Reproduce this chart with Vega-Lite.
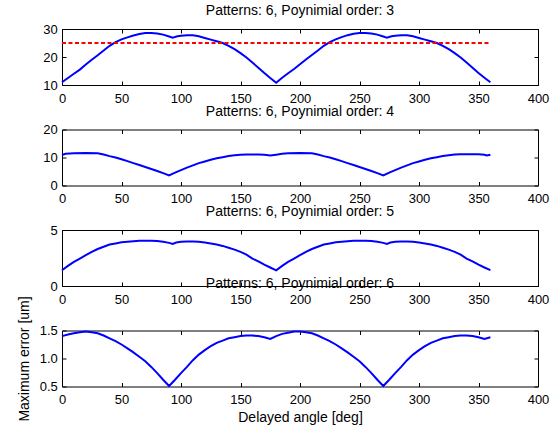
{
 "$schema": "https://vega.github.io/schema/vega-lite/v6.json",
 "padding": {"left": 16, "top": 3, "right": 0, "bottom": 0},
 "bounds": "flush",
 "spacing": 44.5,
 "config": {
  "font": "Liberation Sans",
  "view": {"stroke": "#000000", "strokeWidth": 1},
  "axis": {"domain": false, "grid": false, "ticks": true, "tickColor": "#000000", "tickSize": -4, "tickWidth": 1,
           "labelColor": "#000000", "labelFontSize": 13, "labelFont": "Liberation Sans", "labelFlush": false, "labelOverlap": false,
           "titleFont": "Liberation Sans", "titleFontSize": 14, "titleFontWeight": "normal", "titleColor": "#000000"},
  "axisX": {"labelPadding": 11, "titlePadding": 4},
  "axisY": {"labelPadding": 8.7, "titlePadding": 8},
  "title": {"fontSize": 14, "fontWeight": "normal", "font": "Liberation Sans", "color": "#000000", "offset": 5, "baseline": "alphabetic"}
 },
 "datasets": {
  "p3": [
   {"angle":0,"err":11.0},{"angle":5,"err":12.5},{"angle":10,"err":14.0},{"angle":15,"err":15.5},{"angle":20,"err":17.3},{"angle":25,"err":19.0},{"angle":30,"err":20.6},{"angle":35,"err":22.3},{"angle":40,"err":24.0},{"angle":45,"err":25.3},{"angle":50,"err":26.3},{"angle":55,"err":27.0},{"angle":60,"err":27.7},{"angle":65,"err":28.2},{"angle":70,"err":28.6},{"angle":75,"err":28.6},{"angle":80,"err":28.4},{"angle":85,"err":28.0},{"angle":90,"err":27.3},{"angle":93,"err":26.9},{"angle":97,"err":27.4},{"angle":100,"err":27.6},{"angle":105,"err":27.8},{"angle":110,"err":27.8},{"angle":115,"err":27.4},{"angle":120,"err":26.8},{"angle":125,"err":26.2},{"angle":130,"err":25.6},{"angle":135,"err":25.0},{"angle":140,"err":24.0},{"angle":145,"err":22.8},{"angle":150,"err":21.4},{"angle":155,"err":19.8},{"angle":160,"err":18.0},{"angle":165,"err":16.2},{"angle":170,"err":14.3},{"angle":175,"err":12.5},{"angle":180,"err":10.8},
   {"angle":185,"err":12.6},{"angle":190,"err":14.2},{"angle":195,"err":15.7},{"angle":200,"err":17.4},{"angle":205,"err":19.1},{"angle":210,"err":20.7},{"angle":215,"err":22.3},{"angle":220,"err":24.0},{"angle":225,"err":25.3},{"angle":230,"err":26.3},{"angle":235,"err":27.1},{"angle":240,"err":27.8},{"angle":245,"err":28.3},{"angle":250,"err":28.6},{"angle":255,"err":28.6},{"angle":260,"err":28.4},{"angle":265,"err":28.0},{"angle":270,"err":27.3},{"angle":273,"err":26.9},{"angle":277,"err":27.4},{"angle":280,"err":27.6},{"angle":285,"err":27.8},{"angle":290,"err":27.8},{"angle":295,"err":27.4},{"angle":300,"err":26.8},{"angle":305,"err":26.2},{"angle":310,"err":25.6},{"angle":315,"err":25.0},{"angle":320,"err":24.0},{"angle":325,"err":22.8},{"angle":330,"err":21.4},{"angle":335,"err":19.8},{"angle":340,"err":18.0},{"angle":345,"err":16.2},{"angle":350,"err":14.3},{"angle":355,"err":12.6},{"angle":360,"err":11.0}
  ],
  "limit": [{"angle":0,"err":25},{"angle":360,"err":25}],
  "p4": [
   {"angle":0,"err":10.9},{"angle":3,"err":11.3},{"angle":10,"err":11.5},{"angle":20,"err":11.6},{"angle":30,"err":11.5},{"angle":35,"err":11.1},{"angle":40,"err":10.5},{"angle":45,"err":10.0},{"angle":50,"err":9.4},{"angle":55,"err":8.7},{"angle":60,"err":8.0},{"angle":65,"err":7.3},{"angle":70,"err":6.6},{"angle":75,"err":5.9},{"angle":80,"err":5.2},{"angle":85,"err":4.4},{"angle":90,"err":3.6},{"angle":95,"err":4.6},{"angle":100,"err":5.5},{"angle":105,"err":6.4},{"angle":110,"err":7.2},{"angle":115,"err":8.0},{"angle":120,"err":8.6},{"angle":125,"err":9.2},{"angle":130,"err":9.7},{"angle":135,"err":10.1},{"angle":140,"err":10.5},{"angle":145,"err":10.8},{"angle":150,"err":11.0},{"angle":155,"err":11.1},{"angle":160,"err":11.1},{"angle":165,"err":11.1},{"angle":170,"err":11.0},{"angle":175,"err":10.7},{"angle":180,"err":11.0},
   {"angle":185,"err":11.3},{"angle":190,"err":11.5},{"angle":200,"err":11.6},{"angle":210,"err":11.5},{"angle":215,"err":11.1},{"angle":220,"err":10.5},{"angle":225,"err":10.0},{"angle":230,"err":9.4},{"angle":235,"err":8.7},{"angle":240,"err":8.0},{"angle":245,"err":7.3},{"angle":250,"err":6.6},{"angle":255,"err":5.9},{"angle":260,"err":5.2},{"angle":265,"err":4.4},{"angle":270,"err":3.6},{"angle":275,"err":4.6},{"angle":280,"err":5.5},{"angle":285,"err":6.4},{"angle":290,"err":7.2},{"angle":295,"err":8.0},{"angle":300,"err":8.6},{"angle":305,"err":9.2},{"angle":310,"err":9.7},{"angle":315,"err":10.1},{"angle":320,"err":10.5},{"angle":325,"err":10.8},{"angle":330,"err":11.1},{"angle":335,"err":11.2},{"angle":340,"err":11.2},{"angle":345,"err":11.2},{"angle":350,"err":11.2},{"angle":355,"err":11.0},{"angle":357,"err":10.7},{"angle":360,"err":11.0}
  ],
  "p5": [
   {"angle":0,"err":1.4},{"angle":5,"err":1.8},{"angle":10,"err":2.15},{"angle":15,"err":2.45},{"angle":20,"err":2.75},{"angle":25,"err":3.05},{"angle":30,"err":3.3},{"angle":35,"err":3.5},{"angle":40,"err":3.7},{"angle":45,"err":3.8},{"angle":50,"err":3.9},{"angle":55,"err":3.95},{"angle":60,"err":4.0},{"angle":65,"err":4.05},{"angle":70,"err":4.05},{"angle":75,"err":4.05},{"angle":80,"err":4.02},{"angle":85,"err":3.95},{"angle":90,"err":3.85},{"angle":93,"err":3.75},{"angle":96,"err":3.88},{"angle":100,"err":3.95},{"angle":105,"err":3.97},{"angle":110,"err":3.97},{"angle":115,"err":3.95},{"angle":120,"err":3.88},{"angle":125,"err":3.8},{"angle":130,"err":3.7},{"angle":135,"err":3.58},{"angle":140,"err":3.42},{"angle":145,"err":3.25},{"angle":150,"err":3.05},{"angle":155,"err":2.8},{"angle":160,"err":2.45},{"angle":165,"err":2.2},{"angle":170,"err":1.9},{"angle":175,"err":1.65},{"angle":180,"err":1.4},
   {"angle":185,"err":1.8},{"angle":190,"err":2.15},{"angle":195,"err":2.45},{"angle":200,"err":2.75},{"angle":205,"err":3.05},{"angle":210,"err":3.3},{"angle":215,"err":3.5},{"angle":220,"err":3.7},{"angle":225,"err":3.8},{"angle":230,"err":3.9},{"angle":235,"err":3.95},{"angle":240,"err":4.0},{"angle":245,"err":4.05},{"angle":250,"err":4.05},{"angle":255,"err":4.05},{"angle":260,"err":4.02},{"angle":265,"err":3.95},{"angle":270,"err":3.85},{"angle":273,"err":3.75},{"angle":276,"err":3.88},{"angle":280,"err":3.95},{"angle":285,"err":3.97},{"angle":290,"err":3.97},{"angle":295,"err":3.95},{"angle":300,"err":3.88},{"angle":305,"err":3.8},{"angle":310,"err":3.7},{"angle":315,"err":3.58},{"angle":320,"err":3.42},{"angle":325,"err":3.25},{"angle":330,"err":3.05},{"angle":335,"err":2.8},{"angle":340,"err":2.45},{"angle":345,"err":2.2},{"angle":350,"err":1.9},{"angle":355,"err":1.65},{"angle":360,"err":1.42}
  ],
  "p6": [
   {"angle":0,"err":1.40},{"angle":5,"err":1.43},{"angle":10,"err":1.45},{"angle":15,"err":1.47},{"angle":20,"err":1.48},{"angle":25,"err":1.47},{"angle":30,"err":1.45},{"angle":35,"err":1.41},{"angle":40,"err":1.36},{"angle":45,"err":1.31},{"angle":50,"err":1.25},{"angle":55,"err":1.18},{"angle":60,"err":1.11},{"angle":65,"err":1.03},{"angle":70,"err":0.95},{"angle":75,"err":0.85},{"angle":80,"err":0.74},{"angle":85,"err":0.62},{"angle":90,"err":0.51},{"angle":95,"err":0.62},{"angle":100,"err":0.74},{"angle":105,"err":0.85},{"angle":110,"err":0.97},{"angle":115,"err":1.07},{"angle":120,"err":1.15},{"angle":125,"err":1.22},{"angle":130,"err":1.28},{"angle":135,"err":1.32},{"angle":140,"err":1.36},{"angle":145,"err":1.38},{"angle":150,"err":1.40},{"angle":155,"err":1.41},{"angle":160,"err":1.41},{"angle":165,"err":1.40},{"angle":170,"err":1.38},{"angle":175,"err":1.35},{"angle":180,"err":1.40},
   {"angle":185,"err":1.44},{"angle":190,"err":1.46},{"angle":195,"err":1.48},{"angle":200,"err":1.48},{"angle":205,"err":1.47},{"angle":210,"err":1.45},{"angle":215,"err":1.41},{"angle":220,"err":1.36},{"angle":225,"err":1.31},{"angle":230,"err":1.25},{"angle":235,"err":1.18},{"angle":240,"err":1.11},{"angle":245,"err":1.03},{"angle":250,"err":0.95},{"angle":255,"err":0.85},{"angle":260,"err":0.74},{"angle":265,"err":0.62},{"angle":270,"err":0.51},{"angle":275,"err":0.62},{"angle":280,"err":0.74},{"angle":285,"err":0.85},{"angle":290,"err":0.97},{"angle":295,"err":1.07},{"angle":300,"err":1.15},{"angle":305,"err":1.22},{"angle":310,"err":1.28},{"angle":315,"err":1.32},{"angle":320,"err":1.36},{"angle":325,"err":1.38},{"angle":330,"err":1.40},{"angle":335,"err":1.41},{"angle":340,"err":1.41},{"angle":345,"err":1.40},{"angle":350,"err":1.38},{"angle":355,"err":1.35},{"angle":360,"err":1.38}
  ]
 },
 "vconcat": [
  {
   "width": 476, "height": 56,
   "title": "Patterns: 6, Poynimial order: 3",
   "layer": [
    {"data": {"name": "p3"}, "mark": {"type": "line", "color": "#0000ff", "strokeWidth": 2},
     "encoding": {
      "x": {"field": "angle", "type": "quantitative", "scale": {"domain": [0, 400], "nice": false, "zero": false}, "axis": {"values": [0,50,100,150,200,250,300,350,400], "title": null}},
      "y": {"field": "err", "type": "quantitative", "scale": {"domain": [10, 30], "nice": false, "zero": false}, "axis": {"values": [10,20,30], "title": null}}}},
    {"data": {"name": "limit"}, "mark": {"type": "line", "color": "#ff0000", "strokeWidth": 2, "strokeDash": [4, 2.5]},
     "encoding": {
      "x": {"field": "angle", "type": "quantitative", "scale": {"domain": [0, 400], "nice": false, "zero": false}, "axis": null},
      "y": {"field": "err", "type": "quantitative", "scale": {"domain": [10, 30], "nice": false, "zero": false}, "axis": null}}},
    {"data": {"name": "p3"}, "mark": {"type": "line", "opacity": 0},
     "encoding": {
      "x": {"field": "angle", "type": "quantitative", "scale": {"domain": [0, 400], "nice": false, "zero": false}, "axis": {"orient": "top", "labels": false, "values": [0,50,100,150,200,250,300,350,400], "title": null}},
      "y": {"field": "err", "type": "quantitative", "scale": {"domain": [10, 30], "nice": false, "zero": false}, "axis": {"orient": "right", "labels": false, "values": [10,20,30], "title": null}}}}
   ],
   "resolve": {"axis": {"x": "independent", "y": "independent"}}
  },
  {
   "width": 476, "height": 56,
   "title": "Patterns: 6, Poynimial order: 4",
   "layer": [
    {"data": {"name": "p4"}, "mark": {"type": "line", "color": "#0000ff", "strokeWidth": 2},
     "encoding": {
      "x": {"field": "angle", "type": "quantitative", "scale": {"domain": [0, 400], "nice": false, "zero": false}, "axis": {"values": [0,50,100,150,200,250,300,350,400], "title": null}},
      "y": {"field": "err", "type": "quantitative", "scale": {"domain": [0, 20], "nice": false, "zero": false}, "axis": {"values": [0,10,20], "title": null}}}},
    {"data": {"name": "p4"}, "mark": {"type": "line", "opacity": 0},
     "encoding": {
      "x": {"field": "angle", "type": "quantitative", "scale": {"domain": [0, 400], "nice": false, "zero": false}, "axis": {"orient": "top", "labels": false, "values": [0,50,100,150,200,250,300,350,400], "title": null}},
      "y": {"field": "err", "type": "quantitative", "scale": {"domain": [0, 20], "nice": false, "zero": false}, "axis": {"orient": "right", "labels": false, "values": [0,10,20], "title": null}}}}
   ],
   "resolve": {"axis": {"x": "independent", "y": "independent"}}
  },
  {
   "width": 476, "height": 56,
   "title": "Patterns: 6, Poynimial order: 5",
   "layer": [
    {"data": {"name": "p5"}, "mark": {"type": "line", "color": "#0000ff", "strokeWidth": 2},
     "encoding": {
      "x": {"field": "angle", "type": "quantitative", "scale": {"domain": [0, 400], "nice": false, "zero": false}, "axis": {"values": [0,50,100,150,200,250,300,350,400], "title": null}},
      "y": {"field": "err", "type": "quantitative", "scale": {"domain": [0, 5], "nice": false, "zero": false}, "axis": {"values": [0,5], "title": null}}}},
    {"data": {"name": "p5"}, "mark": {"type": "line", "opacity": 0},
     "encoding": {
      "x": {"field": "angle", "type": "quantitative", "scale": {"domain": [0, 400], "nice": false, "zero": false}, "axis": {"orient": "top", "labels": false, "values": [0,50,100,150,200,250,300,350,400], "title": null}},
      "y": {"field": "err", "type": "quantitative", "scale": {"domain": [0, 5], "nice": false, "zero": false}, "axis": {"orient": "right", "labels": false, "values": [0,5], "title": null}}}}
   ],
   "resolve": {"axis": {"x": "independent", "y": "independent"}}
  },
  {
   "width": 476, "height": 56,
   "title": "Patterns: 6, Poynimial order: 6",
   "layer": [
    {"data": {"name": "p6"}, "mark": {"type": "line", "color": "#0000ff", "strokeWidth": 2},
     "encoding": {
      "x": {"field": "angle", "type": "quantitative", "scale": {"domain": [0, 400], "nice": false, "zero": false}, "axis": {"values": [0,50,100,150,200,250,300,350,400], "title": "Delayed angle [deg]"}},
      "y": {"field": "err", "type": "quantitative", "scale": {"domain": [0.5, 1.5], "nice": false, "zero": false}, "axis": {"values": [0.5,1,1.5], "title": "Maximum error [um]"}}}},
    {"data": {"name": "p6"}, "mark": {"type": "line", "opacity": 0},
     "encoding": {
      "x": {"field": "angle", "type": "quantitative", "scale": {"domain": [0, 400], "nice": false, "zero": false}, "axis": {"orient": "top", "labels": false, "values": [0,50,100,150,200,250,300,350,400], "title": null}},
      "y": {"field": "err", "type": "quantitative", "scale": {"domain": [0.5, 1.5], "nice": false, "zero": false}, "axis": {"orient": "right", "labels": false, "values": [0.5,1,1.5], "title": null}}}}
   ],
   "resolve": {"axis": {"x": "independent", "y": "independent"}}
  }
 ]
}
